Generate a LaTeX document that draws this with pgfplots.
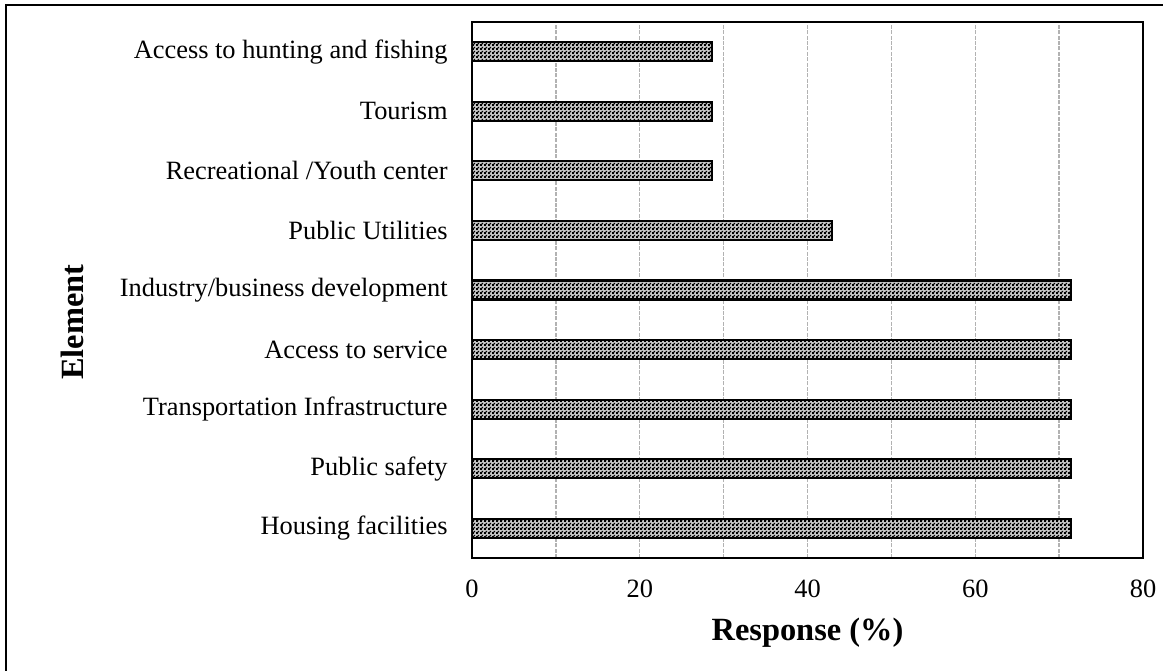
\documentclass[border=0pt]{standalone}
\usepackage{pgfplots}
\pgfplotsset{compat=1.18}
\usepackage{fontspec}
\setmainfont{Liberation Serif}
\usetikzlibrary{patterns.meta}

% fine black/white checkerboard like the spreadsheet fill
\tikzdeclarepattern{
  name=finecheck,
  type=uncolored,
  bottom left={(0pt,0pt)},
  top right={(2pt,2pt)},
  tile size={(2pt,2pt)},
  code={
    \fill (0pt,0pt) rectangle (1.2pt,1.2pt);
    \fill (1pt,1pt) rectangle (2pt,2pt);
  }
}

\begin{document}
\fontsize{13.2}{15}\selectfont
\begin{tikzpicture}
\begin{axis}[
    at={(236pt,56pt)}, anchor=south west,
    scale only axis, width=335.5pt, height=268pt,
    xbar, bar width=9.5pt,
    xmin=0, xmax=80, ymin=-0.5, ymax=8.5,
    xtick={0,20,...,80}, minor xtick={10,30,50,70},
    xmajorgrids, xminorgrids,
    major grid style={gray!60, line width=0.7pt, dash pattern=on 2pt off 0.7pt},
    minor grid style={gray!60, line width=0.7pt, dash pattern=on 2pt off 0.7pt},
    ytick={0,...,8},
    yticklabels={Housing facilities, Public safety, Transportation Infrastructure,
                 Access to service, Industry/business development, Public Utilities,
                 Recreational /Youth center, Tourism, Access to hunting and fishing},
    major tick length=0pt, minor tick length=0pt,
    tick style={draw=none},
    /pgf/number format/assume math mode=true,
    ticklabel style={font=\fontsize{13.2}{15}\selectfont},
    xticklabel style={yshift=-6.6pt},
    yticklabel style={xshift=-7.6pt},
    axis line style={black, line width=1pt},
    xlabel={\textbf{Response (\%)}},
    ylabel={\textbf{Element}},
    label style={font=\fontsize{16.2}{18}\selectfont},
    xlabel style={at={(axis description cs:0.5,-0.14)}, anchor=center},
    ylabel style={at={(axis description cs:-0.596,0.44)}, anchor=center},
]
\addplot[draw=black, line width=1.1pt, fill=gray!45,
         postaction={pattern=finecheck, pattern color=black}]
  coordinates {
    (71.4,0) (71.4,1) (71.4,2) (71.4,3) (71.4,4)
    (42.9,5) (28.6,6) (28.6,7) (28.6,8)
  };
\end{axis}
\draw[line width=0.8pt] (3pt,-20pt) -- (3pt,332.5pt) -- (600pt,332.5pt);
\pgfresetboundingbox
\useasboundingbox (0,0) rectangle (581.5pt,335pt);
\end{tikzpicture}
\end{document}
